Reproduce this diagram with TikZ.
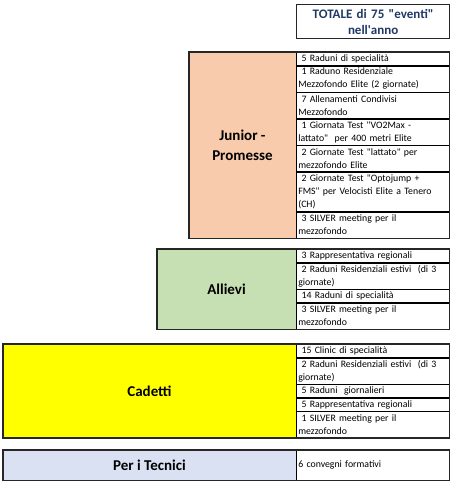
\documentclass[tikz,border=0pt]{standalone}
\usepackage{fontspec}
\setmainfont{Carlito}
\usetikzlibrary{positioning,calc}
\definecolor{jrpeach}{RGB}{248,203,173}
\definecolor{algreen}{RGB}{198,224,180}
\definecolor{cdyellow}{RGB}{255,255,0}
\definecolor{tcblue}{RGB}{217,225,242}
\definecolor{ttlblue}{RGB}{31,56,100}
\newcommand{\dq}{\textquotedbl}

\tikzset{
  evrow/.style={draw,line width=0.6pt,anchor=north west,text width=149pt,
    inner xsep=2pt,inner ysep=0pt,align=left,minimum height=#1*13pt,
    font=\fontsize{9.8}{13}\selectfont},
  grpline/.style={line width=1.3pt,draw=black!85},
  grplabel/.style={align=center,font=\bfseries\fontsize{15}{20}\selectfont}
}

\begin{document}
\begin{tikzpicture}[x=1pt,y=1pt]
  \useasboundingbox (0,0) rectangle (468,-493);
  % titolo
  \node[grpline,draw,anchor=north west,text width=149pt,inner xsep=2pt,
    minimum height=34pt,align=center,text=ttlblue,
    font=\bfseries\fontsize{13}{16}\selectfont] (tot) at (296,-4)
    {TOTALE di 75 \dq eventi\dq\\nell\textquotesingle anno};

  % Junior - Promesse
  \coordinate (jtl) at (189,-52);
  \node[evrow=1] (j1) at (296,-52) {\ 5 Raduni di specialità};
  \node[evrow=2,below right=0pt of j1.south west] (j2) {\ 1 Raduno Residenziale\\Mezzofondo Elite (2 giornate)};
  \node[evrow=2,below right=0pt of j2.south west] (j3) {\ 7 Allenamenti Condivisi\\Mezzofondo};
  \node[evrow=2,below right=0pt of j3.south west] (j4) {\ 1 Giornata Test \dq VO2Max -\\lattato\dq\ \ per 400 metri Elite};
  \node[evrow=2,below right=0pt of j4.south west] (j5) {\ 2 Giornate Test \dq lattato\dq\ per\\mezzofondo Elite};
  \node[evrow=3,below right=0pt of j5.south west] (j6) {\ 2 Giornate Test \dq Optojump +\\FMS\dq\ per Velocisti Elite a Tenero\\(CH)};
  \node[evrow=2,below right=0pt of j6.south west] (j7) {\ 3 SILVER meeting per il\\mezzofondo};
  \fill[jrpeach] (jtl) rectangle (j7.south west);
  \node[grplabel] (jlab) at ($(jtl)!0.5!(j7.south west)$) {Junior -\\Promesse};
  \draw[grpline] (jtl) rectangle (j7.south east);

  % Allievi
  \coordinate (atl) at (157,-249);
  \node[evrow=1] (a1) at (296,-249) {\ 3 Rappresentativa regionali};
  \node[evrow=2,below right=0pt of a1.south west] (a2) {\ 2 Raduni Residenziali estivi\ \ (di 3\\giornate)};
  \node[evrow=1,below right=0pt of a2.south west] (a3) {\ 14 Raduni di specialità};
  \node[evrow=2,below right=0pt of a3.south west] (a4) {\ 3 SILVER meeting per il\\mezzofondo};
  \fill[algreen] (atl) rectangle (a4.south west);
  \node[grplabel] (alab) at ($(atl)!0.5!(a4.south west)$) {Allievi};
  \draw[grpline] (atl) rectangle (a4.south east);

  % Cadetti
  \coordinate (ctl) at (3,-344);
  \node[evrow=1] (c1) at (296,-344) {\ 15 Clinic di specialità};
  \node[evrow=2,below right=0pt of c1.south west] (c2) {\ 2 Raduni Residenziali estivi\ \ (di 3\\giornate)};
  \node[evrow=1,below right=0pt of c2.south west] (c3) {\ 5 Raduni\ \ giornalieri};
  \node[evrow=1,below right=0pt of c3.south west] (c4) {\ 5 Rappresentativa regionali};
  \node[evrow=2,below right=0pt of c4.south west] (c5) {\ 1 SILVER meeting per il\\mezzofondo};
  \fill[cdyellow] (ctl) rectangle (c5.south west);
  \node[grplabel] (clab) at ($(ctl)!0.5!(c5.south west)$) {Cadetti};
  \draw[grpline] (ctl) rectangle (c5.south east);

  % Per i Tecnici
  \coordinate (ttl) at (3,-450);
  \node[evrow=1,minimum height=30pt] (t1) at (296,-450) {6 convegni formativi};
  \fill[tcblue] (ttl) rectangle (t1.south west);
  \node[grplabel] (tlab) at ($(ttl)!0.5!(t1.south west)$) {Per i Tecnici};
  \draw[grpline] (ttl) rectangle (t1.south east);
\end{tikzpicture}
\end{document}
